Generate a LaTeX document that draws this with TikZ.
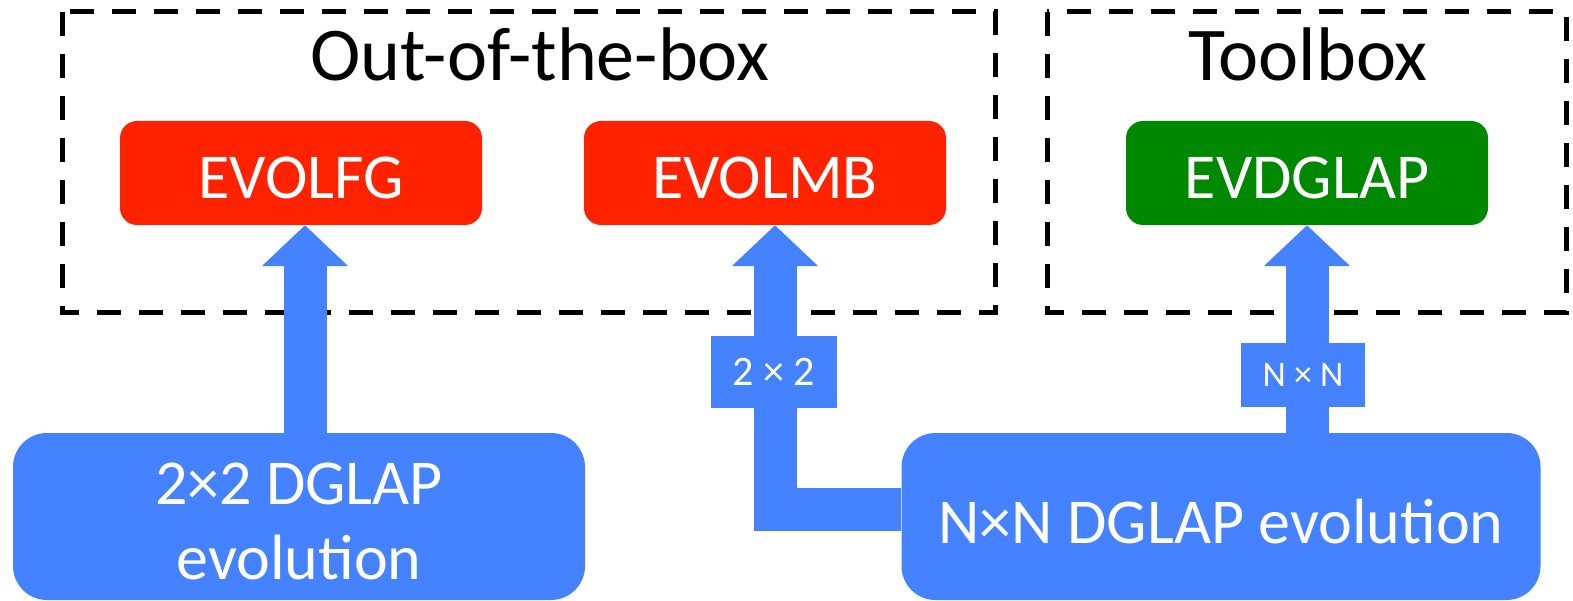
\documentclass[tikz,border=0pt]{standalone}
\usepackage{fontspec}
\setmainfont{Carlito}
\usetikzlibrary{arrows.meta}
\definecolor{evblue}{RGB}{68,130,255}
\definecolor{evred}{RGB}{255,34,0}
\definecolor{evgreen}{RGB}{0,136,0}
\tikzset{
  frame/.style={line width=5pt, dash pattern=on 24pt off 18pt},
  title/.style={font=\fontsize{76}{80}\selectfont},
  prog/.style={rectangle, rounded corners=17pt, minimum width=362pt, minimum height=104pt, text=white, text height=52pt, text depth=0pt, font=\fontsize{64}{75}\selectfont},
  engine/.style={rectangle, fill=evblue, rounded corners=34pt, minimum height=167pt, text=white, align=center, text depth=0pt, font=\fontsize{64}{75}\selectfont},
  fat/.style={evblue, line width=43pt, -{Triangle[width=84pt,length=41pt]}},
  tag/.style={rectangle, fill=evblue, text=white, inner sep=0pt}
}
\begin{document}
\begin{tikzpicture}[x=1pt, y=-1pt]
\useasboundingbox (0,0) rectangle (1573,601);
\draw[frame] (62,12) rectangle (995,313);
\draw[frame] (1047,12) rectangle (1566,313);
\node[title] (otb) at (540,54) {Out-of-the-box};
\node[title] (tbx) at (1308,54) {Toolbox};
\node[prog, fill=evred] (evolfg) at (301,173) {EVOLFG};
\node[prog, fill=evred] (evolmb) at (765,173) {EVOLMB};
\node[prog, fill=evgreen] (evdglap) at (1307,173) {EVDGLAP};
\node[engine, minimum width=572pt, text height=125pt] (dglap2) at (299,516.5) {2×2 DGLAP\\evolution};
\node[engine, minimum width=639pt, text height=53pt] (dglapn) at (1221,516.5) {N×N DGLAP evolution};
\draw[fat] ([xshift=4pt]evolfg.south |- dglap2.north) -- ([xshift=4pt]evolfg.south);
\draw[fat] (dglapn.west |- 0,509) -| ([xshift=10pt]evolmb.south);
\draw[fat] (evdglap.south |- dglapn.north) -- (evdglap.south);
\node[tag, minimum width=126pt, minimum height=72pt, font=\fontsize{42}{44}\selectfont] (two) at (774,372) {2 × 2};
\node[tag, minimum width=124pt, minimum height=64pt, font=\fontsize{36}{38}\selectfont] (enn) at (1303,375) {N × N};
\end{tikzpicture}
\end{document}
